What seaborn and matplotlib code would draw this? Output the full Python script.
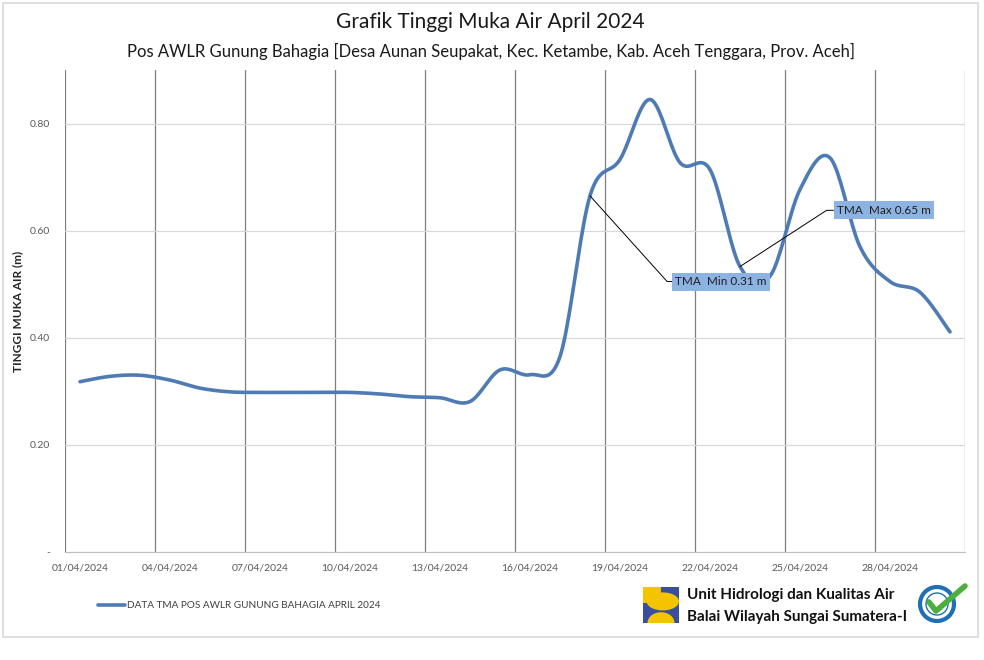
import numpy as np
import pandas as pd
import matplotlib
matplotlib.use("Agg")
import matplotlib.pyplot as plt
import matplotlib.patches as mpatches
import seaborn as sns

# data (daily water level, m)
days = list(range(1, 31))
tma = [0.318, 0.328, 0.330, 0.321, 0.306, 0.299, 0.298, 0.298, 0.298, 0.298,
       0.295, 0.290, 0.288, 0.281, 0.340, 0.331, 0.365, 0.665, 0.733, 0.845,
       0.727, 0.714, 0.533, 0.515, 0.677, 0.736, 0.570, 0.505, 0.485, 0.411]
tick_days = [1, 4, 7, 10, 13, 16, 19, 22, 25, 28]
tick_labels = ["%02d/04/2024" % d for d in tick_days]
min_label = "TMA  Min 0.31 m"
max_label = "TMA  Max 0.65 m"
min_day, max_day = 18, 23

LINE = "#4f7bb5"
BOX = "#8db3e2"


def smooth(x, y, n=20):
    # Excel-style smoothed line (bezier through every point)
    x = np.asarray(x, float)
    y = np.asarray(y, float)
    px = np.r_[x[0], x, x[-1]]
    py = np.r_[y[0], y, y[-1]]
    t = np.linspace(0, 1, n, endpoint=False)[:, None]
    xs, ys = [], []
    for i in range(1, len(px) - 2):
        p0, p1, p2, p3 = [np.array([px[j], py[j]]) for j in (i - 1, i, i + 1, i + 2)]
        c1 = p1 + (p2 - p0) / 6
        c2 = p2 - (p3 - p1) / 6
        b = ((1 - t) ** 3) * p1 + 3 * ((1 - t) ** 2) * t * c1 + 3 * (1 - t) * t ** 2 * c2 + t ** 3 * p2
        xs.append(b[:, 0])
        ys.append(b[:, 1])
    xs.append([x[-1]])
    ys.append([y[-1]])
    return np.concatenate(xs), np.concatenate(ys)


sns.set_style("white")
plt.rcParams["font.family"] = ["Lato", "DejaVu Sans"]

fig = plt.figure(figsize=(9.84, 6.6), dpi=100)
ax = fig.add_axes([65 / 984, 1 - 552 / 660, 900 / 984, 482 / 660])

sx, sy = smooth(days, tma)
df = pd.DataFrame({"hari": sx, "tma": sy})
sns.lineplot(data=df, x="hari", y="tma", ax=ax, color=LINE, linewidth=2.6,
             sort=False, legend=False)

ax.set_xlim(0.5, 30.5)
ax.set_ylim(0, 0.9)

# vertical grid at category boundaries, labels centred on the days
ax.set_xticks(np.arange(0.5, 31, 3))
ax.set_xticklabels([])
ax.set_xticks(tick_days, minor=True)
ax.set_xticklabels(tick_labels, minor=True)
ax.tick_params(axis="x", which="major", length=5, color="#bfbfbf", direction="out")
ax.tick_params(axis="x", which="minor", length=0, labelsize=7.5, labelcolor="#595959", pad=8)
ax.grid(axis="x", which="major", color="#7f7f7f", linewidth=0.9)

ax.set_yticks([0, 0.2, 0.4, 0.6, 0.8])
ax.set_yticklabels(["-", "0.20", "0.40", "0.60", "0.80"])
ax.tick_params(axis="y", length=0, labelsize=7.5, labelcolor="#595959", pad=11)
ax.grid(axis="y", color="#d9d9d9", linewidth=0.9)

for s in ["top", "right", "left"]:
    ax.spines[s].set_visible(False)
ax.spines["bottom"].set_color("#bfbfbf")

ax.set_xlabel("")
ax.set_ylabel("TINGGI MUKA AIR (m)", fontsize=8.5, fontweight="bold", color="#262626")
ax.yaxis.set_label_coords(-0.046, 0.5)

# callouts
ax.annotate(min_label, xy=(min_day, tma[min_day - 1]), xytext=(22.37, 0.505),
            ha="center", va="center", fontsize=8.5, color="#1f1f1f",
            bbox=dict(boxstyle="square,pad=0.3", fc=BOX, ec="none"),
            arrowprops=dict(arrowstyle="-", color="black", lw=0.7,
                            connectionstyle="angle,angleA=0,angleB=-48,rad=0",
                            shrinkA=0, shrinkB=0))
ax.annotate(max_label, xy=(max_day, tma[max_day - 1]), xytext=(27.8, 0.638),
            ha="center", va="center", fontsize=8.5, color="#1f1f1f",
            bbox=dict(boxstyle="square,pad=0.3", fc=BOX, ec="none"),
            arrowprops=dict(arrowstyle="-", color="black", lw=0.7,
                            connectionstyle="angle,angleA=0,angleB=33,rad=0",
                            shrinkA=0, shrinkB=0))

# titles
fig.text(0.4985, 1 - 22 / 660, "Grafik Tinggi Muka Air April 2024", ha="center", va="center",
         fontsize=15, color="#1a1a1a")
fig.text(0.4985, 1 - 51 / 660,
         "Pos AWLR Gunung Bahagia [Desa Aunan Seupakat, Kec. Ketambe, Kab. Aceh Tenggara, Prov. Aceh]",
         ha="center", va="center", fontsize=12, color="#1a1a1a")

# legend
fig.add_artist(plt.Line2D([98 / 984, 125 / 984], [1 - 605 / 660] * 2, color=LINE, lw=2.6))
fig.text(127 / 984, 1 - 605 / 660, "DATA TMA POS AWLR GUNUNG BAHAGIA APRIL 2024",
         ha="left", va="center", fontsize=7.2, color="#404040")

# chart frame
fig.add_artist(mpatches.Rectangle((3 / 984, 1 - 637 / 660), 975 / 984, 634 / 660, fill=False,
                                  ec="#d9d9d9", lw=1.2, transform=fig.transFigure))

# institution logo (simplified)
lx, ly, lw_, lh = 643 / 984, 1 - 623 / 660, 36 / 984, 36 / 660
fig.add_artist(mpatches.Rectangle((lx, ly), lw_, lh, fc="#3a4f9c", ec="none", transform=fig.transFigure))
fig.add_artist(mpatches.Rectangle((lx, ly + lh * 0.55), lw_ * 0.5, lh * 0.45, fc="#f5c400", ec="none",
                                  transform=fig.transFigure))
fig.add_artist(mpatches.Ellipse((lx + lw_ * 0.55, ly + lh * 0.6), lw_ * 0.9, lh * 0.5, fc="#f5c400",
                                ec="none", transform=fig.transFigure))
fig.add_artist(mpatches.Ellipse((lx + lw_ * 0.5, ly), lw_ * 0.75, lh * 0.6, fc="#f5c400",
                                ec="none", transform=fig.transFigure))
fig.add_artist(mpatches.Rectangle((lx, ly - lh * 0.3), lw_, lh * 0.3, fc="white", ec="none",
                                  transform=fig.transFigure))
fig.text(687 / 984, 1 - 595 / 660, "Unit Hidrologi dan Kualitas Air", ha="left", va="center",
         fontsize=11, fontweight="bold", color="#111111")
fig.text(687 / 984, 1 - 617 / 660, "Balai Wilayah Sungai Sumatera-I", ha="left", va="center",
         fontsize=11, fontweight="bold", color="#111111")

# certification badge (simplified)
bx, by = 937 / 984, 1 - 604 / 660
fig.add_artist(mpatches.Ellipse((bx, by), 34 / 984, 34 / 660, fc="white", ec="#1f6fb5", lw=3,
                                transform=fig.transFigure))
fig.add_artist(mpatches.Ellipse((bx, by), 22 / 984, 22 / 660, fc="white", ec="#1f6fb5", lw=1,
                                transform=fig.transFigure))
fig.add_artist(plt.Line2D([929 / 984, 936 / 984, 965 / 984],
                          [1 - 602 / 660, 1 - 611 / 660, 1 - 586 / 660],
                          color="#4cae3c", lw=4, solid_capstyle="round"))

fig.savefig("out.png", dpi=100, facecolor="white")
